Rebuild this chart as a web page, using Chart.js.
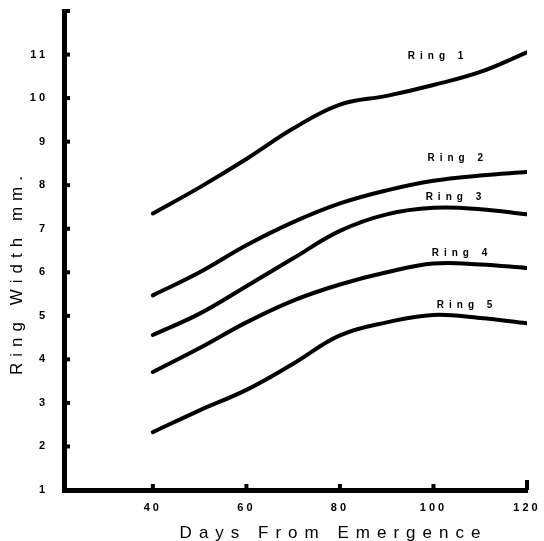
<!DOCTYPE html>
<html>
<head>
<meta charset="utf-8">
<script src="https://cdn.jsdelivr.net/npm/chart.js@4/dist/chart.umd.min.js"></script>
<style>
  body { margin: 0; background: #fff; }
  canvas { display: block; }
</style>
</head>
<body>
<canvas id="ringChart" width="544" height="541"></canvas>
<script>
// values
const days = [40, 50, 60, 70, 80, 90, 100, 110, 120];
const ring1 = [7.35, 7.95, 8.6, 9.3, 9.85, 10.05, 10.3, 10.6, 11.05];
const ring2 = [5.47, 6.0, 6.62, 7.15, 7.58, 7.88, 8.1, 8.22, 8.3];
const ring3 = [4.56, 5.05, 5.68, 6.32, 6.95, 7.33, 7.48, 7.45, 7.33];
const ring4 = [3.71, 4.26, 4.85, 5.35, 5.72, 6.0, 6.2, 6.18, 6.1];
const ring5 = [2.33, 2.83, 3.3, 3.9, 4.55, 4.85, 5.02, 4.95, 4.83];
const ringNames = ['Ring 1', 'Ring 2', 'Ring 3', 'Ring 4', 'Ring 5'];
const xTicks = [40, 60, 80, 100, 120];
const yTicks = [1, 2, 3, 4, 5, 6, 7, 8, 9, 10, 11, 12];

// where each ring's name sits (days, mm)
const labelDays = [101, 105.2, 104.8, 106.1, 107.2];
const labelWidths = [10.95, 8.61, 7.72, 6.44, 5.24];

const series = [ring1, ring2, ring3, ring4, ring5];

const decor = {
    id: 'decor',
    beforeDraw(chart) {
        chart.ctx.letterSpacing = '3px';
    },
    afterDraw(chart) {
        const { ctx, chartArea, scales } = chart;
        const x = scales.x, y = scales.y;
        ctx.save();
        ctx.strokeStyle = '#000';
        ctx.fillStyle = '#000';
        ctx.lineWidth = 4;

        // short ticks pointing into the plot
        xTicks.forEach(v => {
            const px = x.getPixelForValue(v);
            ctx.beginPath();
            ctx.moveTo(px, chartArea.bottom);
            ctx.lineTo(px, chartArea.bottom - (v === 120 ? 10 : 6));
            ctx.stroke();
        });
        yTicks.forEach(v => {
            const py = y.getPixelForValue(v);
            ctx.beginPath();
            ctx.moveTo(chartArea.left, py);
            ctx.lineTo(chartArea.left + 6, py);
            ctx.stroke();
        });

        // ring names
        ctx.font = 'bold 10px "Liberation Sans"';
        ctx.letterSpacing = '5px';
        ctx.textAlign = 'center';
        ctx.textBaseline = 'middle';
        ringNames.forEach((name, i) => {
            ctx.fillText(name, x.getPixelForValue(labelDays[i]), y.getPixelForValue(labelWidths[i]));
        });

        // axis titles
        ctx.font = '17px "Liberation Sans"';
        ctx.letterSpacing = '7px';
        ctx.fillText('Days From Emergence', (chartArea.left + chartArea.right) / 2 + 38, 533);

        ctx.letterSpacing = '6px';
        ctx.translate(17, (chartArea.top + chartArea.bottom) / 2 + 22);
        ctx.rotate(-Math.PI / 2);
        ctx.fillText('Ring Width mm.', 0, 0);
        ctx.restore();
    }
};

const ctx = document.getElementById('ringChart').getContext('2d');

new Chart(ctx, {
    type: 'line',
    data: {
        datasets: series.map((vals, i) => ({
            label: ringNames[i],
            data: vals.map((v, j) => ({ x: days[j], y: v })),
            borderColor: '#000',
            borderWidth: 4,
            borderCapStyle: 'round',
            pointRadius: 0,
            tension: 0.4,
            fill: false
        }))
    },
    options: {
        responsive: false,
        animation: false,
        devicePixelRatio: 1,
        layout: { padding: { top: 11, right: 17, left: 0, bottom: 0 } },
        plugins: {
            legend: { display: false },
            tooltip: { enabled: false }
        },
        scales: {
            x: {
                type: 'linear',
                min: 21,
                max: 120,
                afterBuildTicks: scale => { scale.ticks = xTicks.map(v => ({ value: v })); },
                afterFit: scale => { scale.height = 51; },
                grid: { display: false },
                border: { display: true, color: '#000', width: 5 },
                ticks: {
                    autoSkip: false,
                    maxRotation: 0,
                    padding: 3,
                    color: '#000',
                    font: { family: 'Liberation Sans', size: 11, weight: 'bold' }
                }
            },
            y: {
                min: 1,
                max: 12,
                afterBuildTicks: scale => { scale.ticks = yTicks.map(v => ({ value: v })); },
                afterFit: scale => {
                    scale.width = 64;
                    scale.paddingTop = 0;
                    scale.paddingBottom = 0;
                },
                grid: { display: false },
                border: { display: true, color: '#000', width: 5 },
                ticks: {
                    autoSkip: false,
                    padding: 8,
                    color: '#000',
                    font: { family: 'Liberation Sans', size: 11, weight: 'bold' },
                    callback: v => (v === 12 ? '' : v)
                }
            }
        }
    },
    plugins: [decor]
});
</script>
</body>
</html>
